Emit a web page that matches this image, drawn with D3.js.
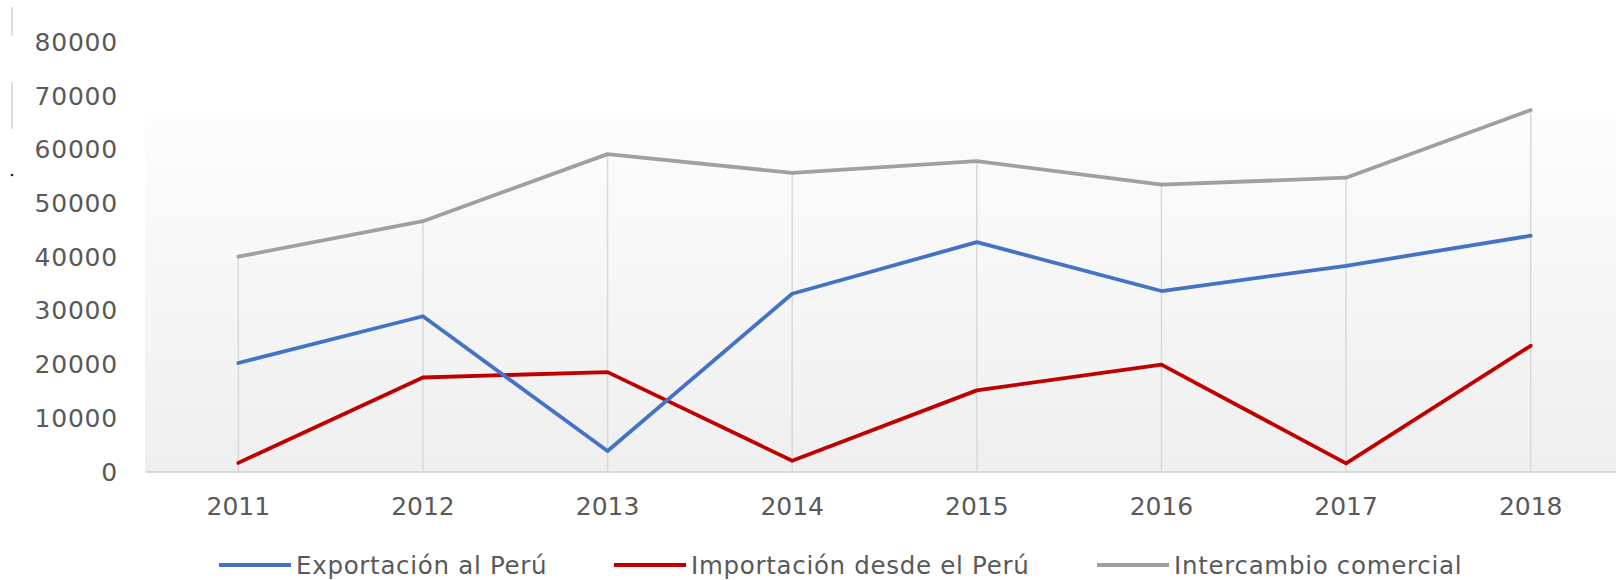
<!DOCTYPE html>
<html>
<head>
<meta charset="utf-8">
<script src="https://cdn.jsdelivr.net/npm/d3@7"></script>
<style>
    html, body { margin: 0; padding: 0; background: #ffffff; }
    svg text { font-family: "DejaVu Sans", sans-serif; fill: #595959; }
</style>
</head>
<body>
<svg id="chart" width="1618" height="580"></svg>
<script>
(function () {
    'use strict';

    let years = ['2011', '2012', '2013', '2014', '2015', '2016', '2017', '2018'];
    let exportacion = [20300, 29000, 3900, 33200, 42800, 33700, 38400, 44000];
    let importacion = [1700, 17600, 18600, 2100, 15200, 20000, 1600, 23500];
    let intercambio = [40100, 46700, 59200, 55700, 57900, 53500, 54800, 67400];
    let yTicks = [0, 10000, 20000, 30000, 40000, 50000, 60000, 70000, 80000];
    let seriesNames = ['Exportación al Perú', 'Importación desde el Perú', 'Intercambio comercial'];
    let seriesColors = ['#4472c4', '#c00000', '#a0a0a0'];

    let series = [exportacion, importacion, intercambio].map(function (vals, i) {
        return { name: seriesNames[i], color: seriesColors[i], values: vals };
    });

    let svg = d3.select('#chart');

    let x = d3.scaleBand()
        .domain(years)
        .range([146, 1623]);
    let y = d3.scaleLinear()
        .domain([0, 80000])
        .range([472, 42.4]);

    // little marks left over on the left edge of the original
    svg.append('rect').attr('x', 11).attr('y', 7).attr('width', 2).attr('height', 29).style('fill', '#dedede');
    svg.append('rect').attr('x', 11).attr('y', 82).attr('width', 2).attr('height', 47).style('fill', '#dedede');
    svg.append('circle').attr('cx', 12).attr('cy', 175).attr('r', 1.3).style('fill', '#222');

    // plot area gradient
    let grad = svg.append('defs').append('linearGradient')
        .attr('id', 'plot-bg')
        .attr('x1', 0).attr('y1', 0).attr('x2', 0).attr('y2', 1);
    grad.append('stop').attr('offset', '0%').attr('stop-color', '#fdfdfd');
    grad.append('stop').attr('offset', '100%').attr('stop-color', '#efefef');

    svg.append('rect')
        .attr('x', 145)
        .attr('y', 112)
        .attr('width', 1616 - 145)
        .attr('height', y(0) - 112)
        .style('fill', 'url(#plot-bg)');

    // drop lines from the highest point down to the axis
    svg.append('g')
        .selectAll('line')
        .data(years)
        .enter()
        .append('line')
        .attr('x1', function (d) { return x(d) + x.bandwidth() / 2; })
        .attr('x2', function (d) { return x(d) + x.bandwidth() / 2; })
        .attr('y1', function (d, i) {
            return y(d3.max(series, function (s) { return s.values[i]; }));
        })
        .attr('y2', y(0))
        .style('stroke', '#d9d9d9')
        .style('stroke-width', 1.5);

    // baseline
    svg.append('line')
        .attr('x1', 146).attr('x2', 1616)
        .attr('y1', y(0)).attr('y2', y(0))
        .style('stroke', '#d9d9d9')
        .style('stroke-width', 2);

    // y axis labels
    let yAxis = d3.axisLeft(y).tickValues(yTicks).tickSize(0).tickPadding(0)
        .tickFormat(function (d) { return String(d); });
    let yG = svg.append('g')
        .attr('transform', 'translate(118,0)')
        .call(yAxis);
    yG.select('.domain').remove();
    yG.selectAll('text')
        .style('font-size', '25px')
        .style('letter-spacing', '0.8px')
        .style('fill', '#595959')
        .style('font-family', '"DejaVu Sans", sans-serif');

    // x axis labels
    let xAxis = d3.axisBottom(x).tickSize(0).tickPadding(25);
    let xG = svg.append('g')
        .attr('transform', 'translate(0,' + y(0) + ')')
        .call(xAxis);
    xG.select('.domain').remove();
    xG.selectAll('text')
        .style('font-size', '25px')
        .style('fill', '#595959')
        .style('font-family', '"DejaVu Sans", sans-serif');

    // lines
    let line = d3.line()
        .x(function (d, i) { return x(years[i]) + x.bandwidth() / 2; })
        .y(function (d) { return y(d); });

    svg.append('g')
        .selectAll('path')
        .data(series.slice().reverse())
        .enter()
        .append('path')
        .attr('d', function (d) { return line(d.values); })
        .style('fill', 'none')
        .style('stroke', function (d) { return d.color; })
        .style('stroke-width', 3.8)
        .style('stroke-linejoin', 'round')
        .style('stroke-linecap', 'round');

    // legend
    let legendX = [219, 614, 1097];
    let legend = svg.append('g')
        .selectAll('g')
        .data(series)
        .enter()
        .append('g')
        .attr('transform', function (d, i) { return 'translate(' + legendX[i] + ',565)'; });
    legend.append('line')
        .attr('x1', 0).attr('x2', 72)
        .attr('y1', 0).attr('y2', 0)
        .style('stroke', function (d) { return d.color; })
        .style('stroke-width', 4);
    legend.append('text')
        .attr('x', 77)
        .attr('y', 0)
        .attr('dy', '0.36em')
        .style('font-size', '24.5px')
        .style('letter-spacing', '0.7px')
        .text(function (d) { return d.name; });
})();
</script>
</body>
</html>
